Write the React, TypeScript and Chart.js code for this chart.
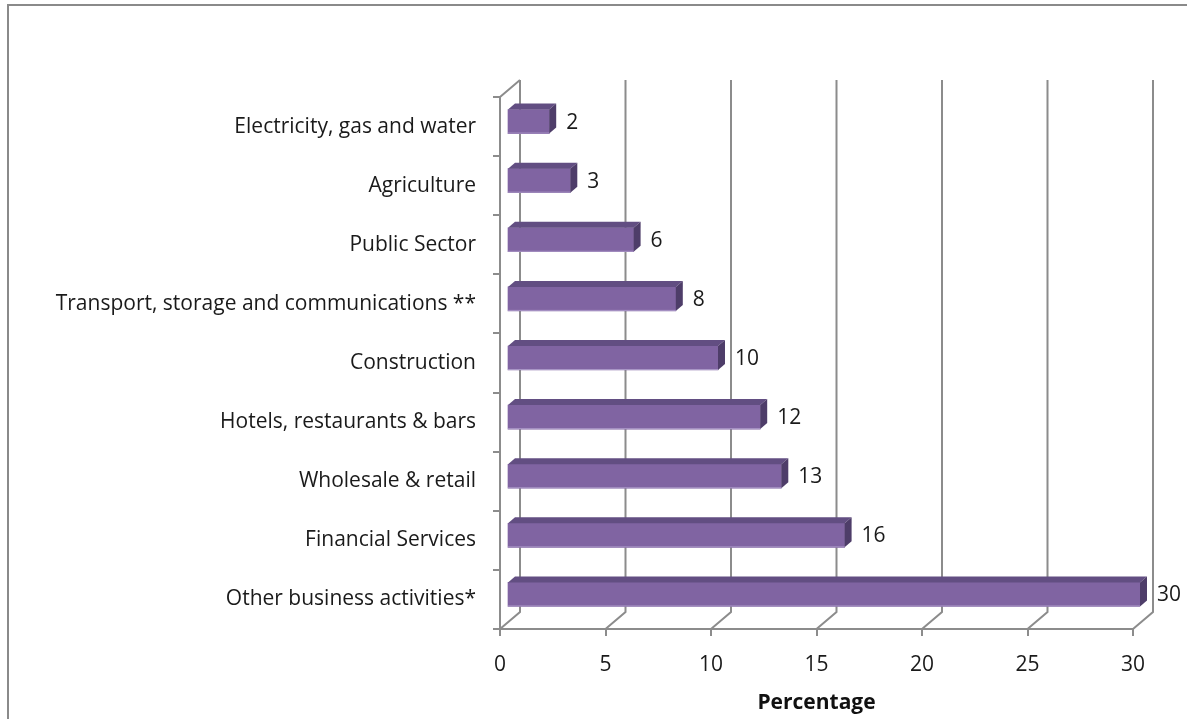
import React, { useEffect, useRef } from 'react';
import { Chart, registerables } from 'chart.js';

Chart.register(...registerables);

const categories = [
  'Electricity, gas and water',
  'Agriculture',
  'Public Sector',
  'Transport, storage and communications **',
  'Construction',
  'Hotels, restaurants & bars',
  'Wholesale & retail',
  'Financial Services',
  'Other business activities*',
];
const values = [2, 3, 6, 8, 10, 12, 13, 16, 30];
const xTickValues = [0, 5, 10, 15, 20, 25, 30];
const axisTitle = 'Percentage';

const FONT = '"Open Sans"';
const FS = 21;
const GRID = '#8c8c8c';
const FRONT = '#8064A2';
const TOP = '#624E82';
const SIDE = '#4E3D69';
const DX = 20;
const DY = -17;
const BX = 7;
const BY = -5;
const BD = 7;
const BDY = -6;

const threeD = {
  id: 'threeD',
  beforeDraw(chart: any) {
    const ctx = chart.ctx;
    ctx.save();
    ctx.strokeStyle = '#8a8a8a';
    ctx.lineWidth = 2;
    ctx.beginPath();
    ctx.moveTo(8, 719);
    ctx.lineTo(8, 5);
    ctx.lineTo(1187, 5);
    ctx.stroke();
    ctx.restore();
  },
  beforeDatasetsDraw(chart: any) {
    const ctx = chart.ctx;
    const xs = chart.scales.x;
    const { top, bottom, left } = chart.chartArea;
    ctx.save();
    ctx.strokeStyle = GRID;
    ctx.lineWidth = 2;
    ctx.beginPath();
    xTickValues.forEach((v) => {
      const x = xs.getPixelForValue(v);
      ctx.moveTo(x, bottom);
      ctx.lineTo(x + DX, bottom + DY);
      ctx.lineTo(x + DX, top + DY);
    });
    ctx.moveTo(left, top);
    ctx.lineTo(left + DX, top + DY);
    ctx.stroke();
    ctx.restore();
    ctx.save();
    ctx.translate(BX, BY);
  },
  afterDatasetsDraw(chart: any) {
    const ctx = chart.ctx;
    ctx.restore();
    const meta = chart.getDatasetMeta(0);
    ctx.save();
    meta.data.forEach((el: any, i: number) => {
      const x0 = el.base + BX;
      const x1 = el.x + BX;
      const yT = el.y - el.height / 2 + BY;
      const yB = el.y + el.height / 2 + BY;
      ctx.fillStyle = TOP;
      ctx.beginPath();
      ctx.moveTo(x0, yT);
      ctx.lineTo(x0 + BD, yT + BDY);
      ctx.lineTo(x1 + BD, yT + BDY);
      ctx.lineTo(x1, yT);
      ctx.closePath();
      ctx.fill();
      ctx.fillStyle = SIDE;
      ctx.beginPath();
      ctx.moveTo(x1, yT);
      ctx.lineTo(x1 + BD, yT + BDY);
      ctx.lineTo(x1 + BD, yB + BDY);
      ctx.lineTo(x1, yB);
      ctx.closePath();
      ctx.fill();
      ctx.strokeStyle = '#A996C6';
      ctx.lineWidth = 1;
      ctx.beginPath();
      ctx.moveTo(x0, yB - 0.5);
      ctx.lineTo(x1, yB - 0.5);
      ctx.stroke();
      ctx.fillStyle = '#1a1a1a';
      ctx.font = `${FS}px ${FONT}`;
      ctx.textAlign = 'left';
      ctx.textBaseline = 'middle';
      ctx.fillText(String(values[i]), x1 + 17, el.y + BY + 1);
    });
    ctx.restore();
  },
};

export default function App() {
  const ref = useRef<HTMLCanvasElement>(null);
  useEffect(() => {
    if (!ref.current) return;
    const chart = new Chart(ref.current, {
      type: 'bar',
      data: {
        labels: categories,
        datasets: [
          {
            data: values,
            backgroundColor: FRONT,
            borderWidth: 0,
            barThickness: 24,
          },
        ],
      },
      options: {
        indexAxis: 'y',
        animation: false,
        responsive: false,
        maintainAspectRatio: false,
        layout: { padding: { left: 0, right: 54, top: 97, bottom: 0 } },
        plugins: {
          legend: { display: false },
          tooltip: { enabled: false },
        },
        scales: {
          x: {
            min: 0,
            max: 30,
            ticks: {
              stepSize: 5,
              font: { family: FONT, size: FS },
              color: '#1a1a1a',
              padding: 16,
            },
            grid: {
              drawOnChartArea: false,
              drawTicks: true,
              tickLength: 7,
              color: GRID,
              lineWidth: 2,
            },
            border: { display: true, color: GRID, width: 2 },
            title: {
              display: true,
              text: axisTitle,
              font: { family: FONT, size: FS, weight: 'bold' },
              color: '#111',
              padding: { top: 0, bottom: 3 },
            },
            afterFit: (s: any) => {
              s.height = 90;
            },
          },
          y: {
            ticks: {
              font: { family: FONT, size: FS },
              color: '#1a1a1a',
              padding: 17,
            },
            grid: {
              drawOnChartArea: false,
              drawTicks: true,
              tickLength: 7,
              color: GRID,
              lineWidth: 2,
              offset: true,
            },
            border: { display: true, color: GRID, width: 2 },
            afterFit: (s: any) => {
              s.width = 500;
            },
          },
        },
      } as any,
      plugins: [threeD],
    });
    return () => chart.destroy();
  }, []);
  return (
    <div style={{ position: 'fixed', left: 0, top: 0, width: 1187, height: 719, background: '#fff' }}>
      <canvas ref={ref} width={1187} height={719} style={{ display: 'block' }} />
    </div>
  );
}
